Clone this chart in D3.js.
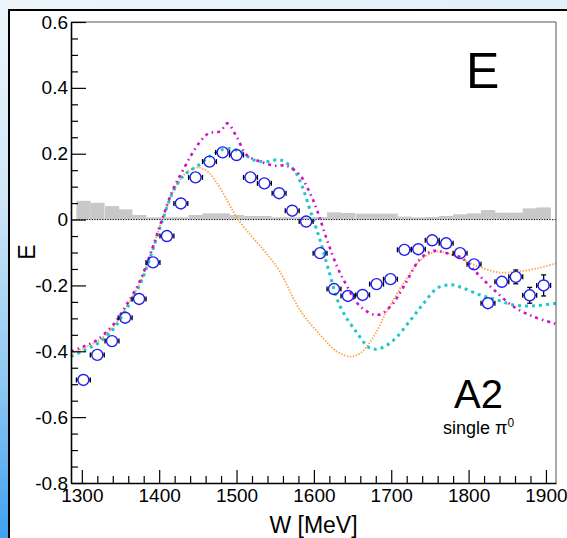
<!DOCTYPE html>
<html>
<head>
<meta charset="utf-8">
<script src="https://cdn.jsdelivr.net/npm/d3@7"></script>
<style>
  body { margin: 0; }
  svg { display: block; }
  text { font-family: "Liberation Sans", Arial, Helvetica, sans-serif; fill: #000; }
</style>
</head>
<body>
<svg class="chart"></svg>
<script>
const size = {w: 567, h: 538};

// data points: W [MeV], E, stat. error
const wPoints = [1302, 1320, 1339, 1356, 1374, 1392, 1410, 1428, 1447, 1465, 1482, 1500, 1518, 1536, 1555, 1572, 1590,
                 1608, 1626, 1644, 1663, 1681, 1699, 1717, 1735, 1753, 1771, 1789, 1807, 1825, 1843, 1861, 1879, 1897];
const ePoints = [-0.487, -0.411, -0.369, -0.298, -0.241, -0.130, -0.050, 0.049, 0.128, 0.176, 0.204, 0.196, 0.128, 0.110, 0.080, 0.027, -0.006,
                 -0.102, -0.211, -0.232, -0.229, -0.196, -0.181, -0.092, -0.090, -0.063, -0.072, -0.102, -0.136, -0.254, -0.189, -0.174, -0.230, -0.200];
const eErrors = [0.01, 0.01, 0.01, 0.01, 0.01, 0.01, 0.01, 0.01, 0.01, 0.01, 0.01, 0.01, 0.01, 0.01, 0.01, 0.01, 0.01,
                 0.01, 0.01, 0.01, 0.01, 0.01, 0.01, 0.012, 0.012, 0.013, 0.014, 0.017, 0.018, 0.017, 0.019, 0.021, 0.024, 0.032];
// systematic error histogram
const sysErrors = [0.057, 0.051, 0.041, 0.031, 0.014, 0.007, 0.007, 0.007, 0.014, 0.019, 0.019, 0.014, 0.011, 0.011, 0.007, 0.007, 0.007,
                   0.008, 0.022, 0.020, 0.018, 0.018, 0.018, 0.009, 0.007, 0.008, 0.011, 0.016, 0.019, 0.029, 0.021, 0.021, 0.034, 0.037];
const binHalfWidth = 9;

// model curves [W, E]
const curveOrange = [[1286, -0.408], [1302, -0.390], [1320, -0.370], [1341, -0.325], [1358, -0.264], [1375, -0.193], [1388, -0.113],
  [1404, 0.000], [1418, 0.085], [1431, 0.133], [1442, 0.153], [1451, 0.158], [1463, 0.145], [1475, 0.110], [1490, 0.049],
  [1500, 0.007], [1518, -0.047], [1537, -0.098], [1556, -0.158], [1582, -0.275], [1608, -0.350], [1630, -0.401], [1647, -0.416],
  [1660, -0.406], [1677, -0.356], [1695, -0.275], [1716, -0.193], [1738, -0.123], [1761, -0.097], [1789, -0.118], [1815, -0.145],
  [1841, -0.161], [1863, -0.158], [1889, -0.148], [1913, -0.133]];
const curveCyan = [[1286, -0.416], [1302, -0.398], [1320, -0.377], [1341, -0.332], [1358, -0.270], [1375, -0.198], [1388, -0.118],
  [1404, -0.004], [1418, 0.085], [1431, 0.132], [1442, 0.152], [1451, 0.165], [1468, 0.196], [1488, 0.216], [1505, 0.206],
  [1522, 0.181], [1539, 0.176], [1557, 0.181], [1574, 0.151], [1585, 0.100], [1595, 0.029], [1600, -0.006], [1608, -0.062],
  [1619, -0.153], [1634, -0.264], [1656, -0.345], [1673, -0.391], [1686, -0.391], [1703, -0.366], [1725, -0.305], [1742, -0.254],
  [1759, -0.209], [1772, -0.199], [1781, -0.199], [1794, -0.209], [1815, -0.229], [1837, -0.244], [1858, -0.259], [1884, -0.262],
  [1913, -0.254]];
const curveMagenta = [[1286, -0.400], [1302, -0.386], [1320, -0.365], [1341, -0.318], [1358, -0.258], [1375, -0.187], [1388, -0.108],
  [1404, 0.002], [1418, 0.092], [1431, 0.151], [1442, 0.198], [1453, 0.237], [1464, 0.262], [1479, 0.268], [1488, 0.292],
  [1500, 0.252], [1513, 0.196], [1531, 0.176], [1548, 0.164], [1565, 0.163], [1582, 0.135], [1593, 0.090], [1604, 0.029],
  [1617, -0.062], [1630, -0.143], [1640, -0.190], [1660, -0.264], [1682, -0.290], [1699, -0.264], [1716, -0.204], [1738, -0.118],
  [1755, -0.095], [1772, -0.102], [1792, -0.118], [1813, -0.168], [1833, -0.214], [1858, -0.264], [1884, -0.295], [1913, -0.317]];

const xMajor = [1300, 1400, 1500, 1600, 1700, 1800, 1900];
const xMinor = [1320, 1340, 1360, 1380, 1420, 1440, 1460, 1480, 1520, 1540, 1560, 1580, 1620, 1640, 1660, 1680,
                1720, 1740, 1760, 1780, 1820, 1840, 1860, 1880];
const yMajor = [-0.8, -0.6, -0.4, -0.2, 0, 0.2, 0.4, 0.6];
const yMinor = [-0.75, -0.7, -0.65, -0.55, -0.5, -0.45, -0.35, -0.3, -0.25, -0.15, -0.1, -0.05,
                0.05, 0.1, 0.15, 0.25, 0.3, 0.35, 0.45, 0.5, 0.55];

const svg = d3.select('svg.chart').attr('width', size.w).attr('height', size.h);

// background gradient + panel
const defs = svg.append('defs');
const grad = defs.append('linearGradient').attr('id', 'bg').attr('x1', 0).attr('y1', 0).attr('x2', 0.15).attr('y2', 1);
grad.append('stop').attr('offset', '0%').attr('stop-color', '#eef6fb');
grad.append('stop').attr('offset', '35%').attr('stop-color', '#d0e7f7');
grad.append('stop').attr('offset', '70%').attr('stop-color', '#8ec8f3');
grad.append('stop').attr('offset', '100%').attr('stop-color', '#3a9df0');
svg.append('rect').attr('width', size.w).attr('height', size.h).attr('fill', 'url(#bg)');
svg.append('rect').attr('x', 9).attr('y', 10).attr('width', size.w).attr('height', size.h)
  .attr('fill', '#fff').attr('stroke', '#000').attr('stroke-width', 2);

const x = d3.scaleLinear().domain([1286, 1913]).range([71, 556]);
const y = d3.scaleLinear().domain([-0.8, 0.6]).range([483, 22]);

const g = svg.append('g');

// systematic histogram
g.selectAll('rect.sys')
  .data(wPoints)
  .join('rect')
  .attr('class', 'sys')
  .attr('x', d => x(d - binHalfWidth))
  .attr('width', d => x(d + binHalfWidth) - x(d - binHalfWidth) + 0.3)
  .attr('y', (d, i) => y(sysErrors[i]))
  .attr('height', (d, i) => y(0) - y(sysErrors[i]))
  .attr('fill', '#c8c8c8');

// zero line
g.append('line')
  .attr('x1', x.range()[0]).attr('x2', x.range()[1])
  .attr('y1', y(0)).attr('y2', y(0))
  .attr('stroke', '#000').attr('stroke-width', 1).attr('stroke-dasharray', '1.2 1.4');

// model curves
const line = d3.line().x(d => x(d[0])).y(d => y(d[1])).curve(d3.curveCatmullRom);
g.append('path').datum(curveOrange).attr('d', line).attr('fill', 'none')
  .attr('stroke', '#ffa040').attr('stroke-width', 1.8).attr('stroke-dasharray', '1.4 1.6');
g.append('path').datum(curveCyan).attr('d', line).attr('fill', 'none')
  .attr('stroke', '#1ec8c8').attr('stroke-width', 3).attr('stroke-dasharray', '3 4');
g.append('path').datum(curveMagenta).attr('d', line).attr('fill', 'none')
  .attr('stroke', '#cc10cc').attr('stroke-width', 2.6).attr('stroke-dasharray', '3 4 1.5 4');

// data points with error bars
const r = 5.5;
const pts = wPoints.map((w, i) => ({w: w, e: ePoints[i], err: eErrors[i]}));
const bars = g.append('g').attr('stroke', '#000').attr('stroke-width', 1.3);
pts.forEach(p => {
  const cx = x(p.w), cy = y(p.e);
  const xl = x(p.w - binHalfWidth), xr = x(p.w + binHalfWidth);
  bars.append('line').attr('x1', xl).attr('x2', cx - r).attr('y1', cy).attr('y2', cy);
  bars.append('line').attr('x1', cx + r).attr('x2', xr).attr('y1', cy).attr('y2', cy);
  bars.append('line').attr('x1', xl).attr('x2', xl).attr('y1', cy - 2.5).attr('y2', cy + 2.5);
  bars.append('line').attr('x1', xr).attr('x2', xr).attr('y1', cy - 2.5).attr('y2', cy + 2.5);
  const dy = y(p.e - p.err) - cy;
  if (dy > r + 1) {
    bars.append('line').attr('x1', cx).attr('x2', cx).attr('y1', cy - dy).attr('y2', cy - r);
    bars.append('line').attr('x1', cx).attr('x2', cx).attr('y1', cy + r).attr('y2', cy + dy);
    bars.append('line').attr('x1', cx - 2.5).attr('x2', cx + 2.5).attr('y1', cy - dy).attr('y2', cy - dy);
    bars.append('line').attr('x1', cx - 2.5).attr('x2', cx + 2.5).attr('y1', cy + dy).attr('y2', cy + dy);
  }
});
g.selectAll('circle.pt')
  .data(pts)
  .join('circle')
  .attr('class', 'pt')
  .attr('cx', d => x(d.w))
  .attr('cy', d => y(d.e))
  .attr('r', r)
  .attr('fill', 'none')
  .attr('stroke', '#1c1cf0')
  .attr('stroke-width', 1.4);

// frame (top/right)
svg.append('path')
  .attr('d', `M${x.range()[0]},${y.range()[1]}H${x.range()[1]}V${y.range()[0]}`)
  .attr('fill', 'none').attr('stroke', '#555').attr('stroke-width', 1);

// axes
const fmtY = d => d === 0 ? '0' : d.toFixed(1);
const yAxis = svg.append('g').attr('transform', `translate(${x.range()[0]},0)`)
  .call(d3.axisLeft(y).tickValues(yMajor).tickFormat(fmtY).tickSize(-15).tickSizeOuter(0).tickPadding(3));
svg.append('g').attr('transform', `translate(${x.range()[0]},0)`)
  .call(d3.axisLeft(y).tickValues(yMinor).tickFormat('').tickSize(-7).tickSizeOuter(0))
  .select('.domain').remove();
const xAxis = svg.append('g').attr('transform', `translate(0,${y.range()[0]})`)
  .call(d3.axisBottom(x).tickValues(xMajor).tickFormat(d3.format('d')).tickSize(-13).tickSizeOuter(0).tickPadding(5.5));
svg.append('g').attr('transform', `translate(0,${y.range()[0]})`)
  .call(d3.axisBottom(x).tickValues(xMinor).tickFormat('').tickSize(-7).tickSizeOuter(0))
  .select('.domain').remove();

svg.selectAll('.tick line').attr('stroke', '#000').attr('stroke-width', 1.2);
svg.selectAll('.domain').attr('stroke', '#000').attr('stroke-width', 1.6);
svg.selectAll('.tick text').style('font-size', '19px').style('font-family', '"Liberation Sans", Arial, sans-serif');

// titles
svg.append('text').attr('x', 313.5).attr('y', 533).attr('text-anchor', 'middle')
  .style('font-size', '23px').text('W [MeV]');
svg.append('text').attr('transform', 'translate(35,252) rotate(-90)').attr('text-anchor', 'middle')
  .style('font-size', '23px').text('E');

svg.append('text').attr('x', 466).attr('y', 88).style('font-size', '50px').text('E');
svg.append('text').attr('x', 454).attr('y', 408).style('font-size', '40px').text('A2');
const lbl = svg.append('text').attr('x', 443).attr('y', 434).style('font-size', '18px');
lbl.append('tspan').text('single \u03c0');
lbl.append('tspan').attr('dy', -7).style('font-size', '12px').text('0');
</script>
</body>
</html>
